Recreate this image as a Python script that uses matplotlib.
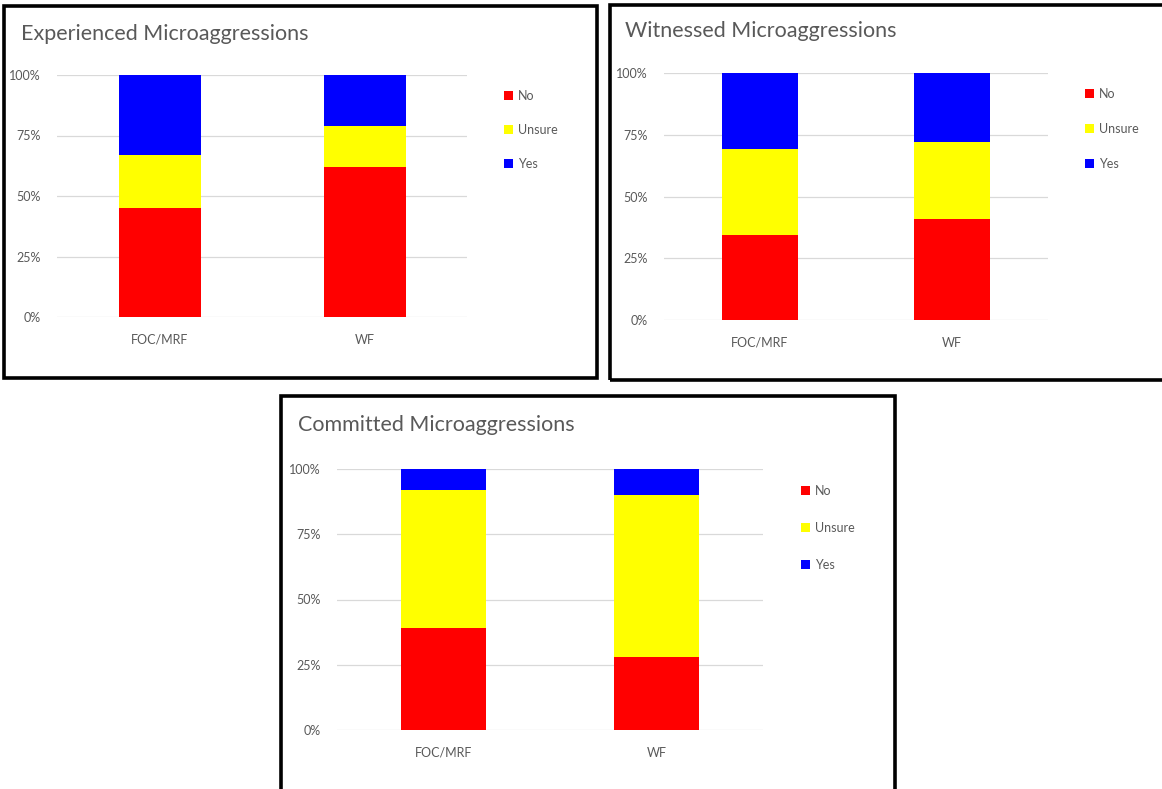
import matplotlib
matplotlib.use("Agg")
import matplotlib.pyplot as plt
from matplotlib.patches import Rectangle, Patch
from matplotlib.ticker import FixedLocator, FuncFormatter

plt.rcParams["font.family"] = ["Lato", "DejaVu Sans"]

# Survey responses (share of respondents, %)
groups = ["FOC/MRF", "WF"]
responses = ["No", "Unsure", "Yes"]
colors = ["#FF0000", "#FFFF00", "#0000FF"]

experienced_no = [45, 62]
experienced_unsure = [22, 17]
experienced_yes = [33, 21]

witnessed_no = [34.5, 41]
witnessed_unsure = [34.7, 31]
witnessed_yes = [30.8, 28]

committed_no = [39, 28]
committed_unsure = [53, 62]
committed_yes = [8, 10]

yticks = [0, 25, 50, 75, 100]

W, H = 1162, 789
fig = plt.figure(figsize=(W / 100, H / 100), dpi=100)
fig.patch.set_facecolor("white")

TXT = "#595959"


def fx(px):
    return px / W


def fy(py):
    return 1 - py / H


def panel(frame, axbox, title, title_xy, series, legend_xy, spacing):
    # frame: (x0, y0, x1, y1) pixel box of the black outline
    x0, y0, x1, y1 = frame
    fig.patches.append(Rectangle((fx(x0), fy(y1)), fx(x1 - x0), (y1 - y0) / H,
                                 transform=fig.transFigure, fill=False,
                                 edgecolor="black", linewidth=2.6, zorder=0))
    ax0, ay0, ax1, ay1 = axbox
    ax = fig.add_axes([fx(ax0), fy(ay1), fx(ax1 - ax0), (ay1 - ay0) / H])
    bottom = [0] * len(groups)
    for vals, col, lab in zip(series, colors, responses):
        ax.bar(groups, vals, width=0.4, bottom=bottom, color=col, label=lab,
               zorder=3, linewidth=0)
        bottom = [b + v for b, v in zip(bottom, vals)]
    ax.set_xlim(-0.5, 1.5)
    ax.set_ylim(0, 100)
    ax.yaxis.set_major_locator(FixedLocator(yticks))
    ax.yaxis.set_major_formatter(FuncFormatter(lambda v, p: f"{v:.0f}%"))
    ax.grid(axis="y", color="#D9D9D9", linewidth=0.9, zorder=0)
    for s in ax.spines.values():
        s.set_visible(False)
    ax.tick_params(axis="both", length=0, labelsize=9, labelcolor=TXT)
    ax.tick_params(axis="y", pad=12)
    ax.tick_params(axis="x", pad=12)
    fig.text(fx(title_xy[0]), fy(title_xy[1]), title, fontsize=15.5, color=TXT,
             ha="left", va="center")
    handles = [Patch(facecolor=c, edgecolor="none", label=l)
               for c, l in zip(colors, responses)]
    fig.legend(handles=handles, loc="upper left",
               bbox_to_anchor=(fx(legend_xy[0]), fy(legend_xy[1])),
               frameon=False, fontsize=9, labelcolor=TXT,
               handlelength=0.75, handleheight=0.75, handletextpad=0.35,
               labelspacing=spacing, borderaxespad=0, borderpad=0)
    return ax


panel((4, 6, 597, 378), (57, 75, 467, 317), "Experienced Microaggressions",
      (21, 34), [experienced_no, experienced_unsure, experienced_yes],
      (504, 90), 1.75)
panel((610, 5, 1166, 380), (664, 73, 1048, 320), "Witnessed Microaggressions",
      (625, 31), [witnessed_no, witnessed_unsure, witnessed_yes],
      (1085, 88), 1.85)
panel((281, 396, 895, 795), (337, 469, 763, 730), "Committed Microaggressions",
      (298, 425), [committed_no, committed_unsure, committed_yes],
      (801, 485), 2.0)

fig.savefig("out.png", dpi=100, facecolor="white")
